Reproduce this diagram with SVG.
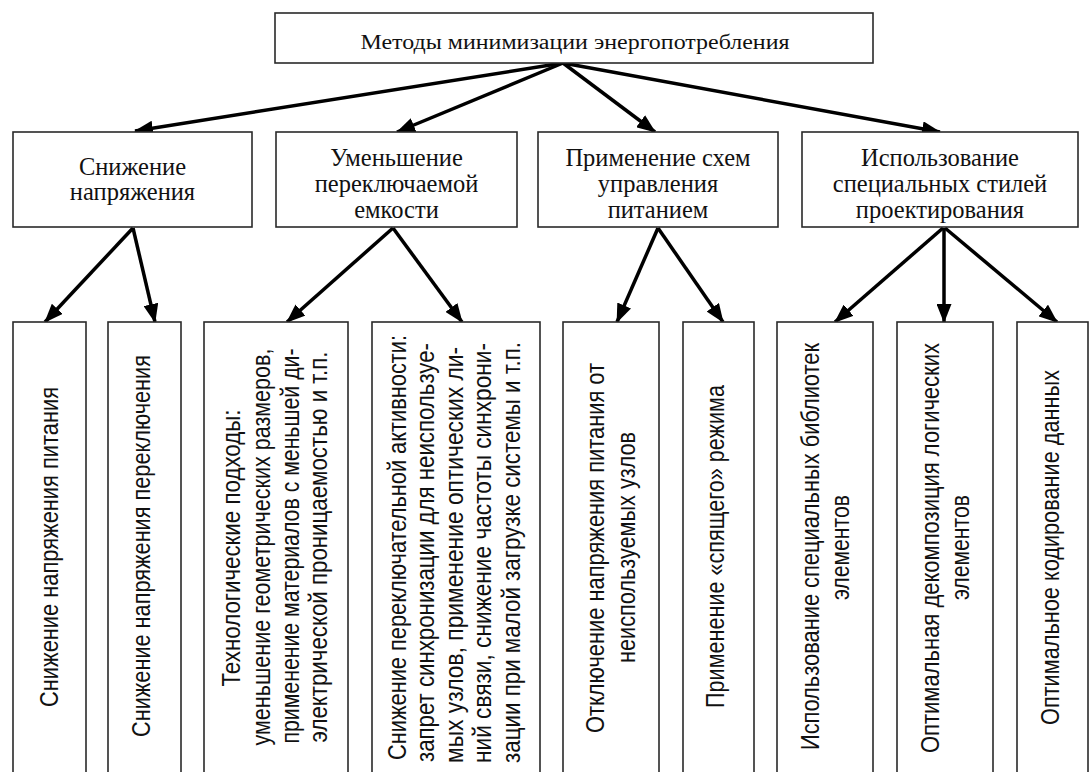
<svg xmlns="http://www.w3.org/2000/svg" width="1092" height="772" viewBox="0 0 1092 772">
<style>
.box{fill:#fff;stroke:#2a2a2a;stroke-width:1.6}
.serif{font-family:"Liberation Serif","Times New Roman",serif;fill:#111;text-anchor:middle}
.t1{font-size:20px}
.t2{font-size:24.5px}
.sans{font-family:"Liberation Sans",Arial,sans-serif;font-size:26px;fill:#111;text-anchor:middle}
.arr{stroke:#000;stroke-width:3.5;fill:none;marker-end:url(#ah)}
</style>
<defs>
<marker id="ah" markerUnits="userSpaceOnUse" markerWidth="19" markerHeight="15" refX="18" refY="7.5" orient="auto">
<path d="M0,0 L19,7.5 L0,15 Z" fill="#000"/>
</marker>
</defs>
<rect width="1092" height="772" fill="#fff"/>

<g id="connectors">
<line class="arr" x1="563" y1="63" x2="135" y2="131"/>
<line class="arr" x1="563" y1="63" x2="397" y2="132"/>
<line class="arr" x1="563" y1="63" x2="655" y2="132"/>
<line class="arr" x1="563" y1="63" x2="940" y2="132"/>
<line class="arr" x1="133" y1="228" x2="45" y2="322"/>
<line class="arr" x1="133" y1="228" x2="155" y2="322"/>
<line class="arr" x1="393" y1="228" x2="287" y2="322"/>
<line class="arr" x1="393" y1="228" x2="462" y2="322"/>
<line class="arr" x1="658" y1="228" x2="617" y2="322"/>
<line class="arr" x1="658" y1="228" x2="723" y2="322"/>
<line class="arr" x1="943" y1="228" x2="835" y2="322"/>
<line class="arr" x1="944" y1="228" x2="944" y2="322"/>
<line class="arr" x1="945" y1="228" x2="1057" y2="322"/>
</g>

<g id="root">
<rect class="box" x="275" y="13" width="598" height="50"/>
<text class="serif t1" x="575" y="49" textLength="429" lengthAdjust="spacingAndGlyphs">Методы минимизации энергопотребления</text>
</g>

<g id="n-voltage">
<rect class="box" x="13" y="132" width="239" height="95"/>
<text class="serif t2" x="132.5" y="175">Снижение</text>
<text class="serif t2" x="132.5" y="200">напряжения</text>
</g>
<g id="n-capacity">
<rect class="box" x="276" y="132" width="241" height="95"/>
<text class="serif t2" x="396.5" y="166">Уменьшение</text>
<text class="serif t2" x="396.5" y="192">переключаемой</text>
<text class="serif t2" x="396.5" y="218">емкости</text>
</g>
<g id="n-power">
<rect class="box" x="538" y="132" width="240" height="95"/>
<text class="serif t2" x="658" y="166">Применение схем</text>
<text class="serif t2" x="658" y="192">управления</text>
<text class="serif t2" x="658" y="218">питанием</text>
</g>
<g id="n-styles">
<rect class="box" x="802" y="132" width="276" height="95"/>
<text class="serif t2" x="940" y="166">Использование</text>
<text class="serif t2" x="940" y="192">специальных стилей</text>
<text class="serif t2" x="940" y="218">проектирования</text>
</g>

<g id="b-supply">
<rect class="box" x="13" y="322" width="73" height="451"/>
<text class="sans" transform="translate(58,547) rotate(-90)" textLength="320" lengthAdjust="spacingAndGlyphs">Снижение напряжения питания</text>
</g>
<g id="b-switch">
<rect class="box" x="108" y="322" width="73" height="451"/>
<text class="sans" transform="translate(150,546) rotate(-90)" textLength="382" lengthAdjust="spacingAndGlyphs">Снижение напряжения переключения</text>
</g>
<g id="b-tech">
<rect class="box" x="204" y="322" width="144" height="451"/>
<text class="sans" transform="translate(240,548) rotate(-90)" textLength="277" lengthAdjust="spacingAndGlyphs">Технологические подходы:</text>
<text class="sans" transform="translate(270,547) rotate(-90)" textLength="397" lengthAdjust="spacingAndGlyphs">уменьшение геометрических размеров,</text>
<text class="sans" transform="translate(299,546) rotate(-90)" textLength="395" lengthAdjust="spacingAndGlyphs">применение материалов с меньшей ди-</text>
<text class="sans" transform="translate(327,547) rotate(-90)" textLength="391" lengthAdjust="spacingAndGlyphs">электрической проницаемостью и т.п.</text>
</g>
<g id="b-activity">
<rect class="box" x="372" y="322" width="168" height="451"/>
<text class="sans" transform="translate(406,547.5) rotate(-90)" textLength="425" lengthAdjust="spacingAndGlyphs">Снижение переключательной активности:</text>
<text class="sans" transform="translate(434,552.5) rotate(-90)" textLength="419" lengthAdjust="spacingAndGlyphs">запрет синхронизации для неиспользуе-</text>
<text class="sans" transform="translate(463,555) rotate(-90)" textLength="416" lengthAdjust="spacingAndGlyphs">мых узлов, применение оптических ли-</text>
<text class="sans" transform="translate(491,553) rotate(-90)" textLength="420" lengthAdjust="spacingAndGlyphs">ний связи, снижение частоты синхрони-</text>
<text class="sans" transform="translate(520,552.5) rotate(-90)" textLength="421" lengthAdjust="spacingAndGlyphs">зации при малой загрузке системы и т.п.</text>
</g>
<g id="b-off">
<rect class="box" x="563" y="322" width="96" height="451"/>
<text class="sans" transform="translate(604,548) rotate(-90)" textLength="370" lengthAdjust="spacingAndGlyphs">Отключение напряжения питания от</text>
<text class="sans" transform="translate(635,547.5) rotate(-90)" textLength="231" lengthAdjust="spacingAndGlyphs">неиспользуемых узлов</text>
</g>
<g id="b-sleep">
<rect class="box" x="683" y="322" width="71" height="451"/>
<text class="sans" transform="translate(724,546.5) rotate(-90)" textLength="323" lengthAdjust="spacingAndGlyphs">Применение «спящего» режима</text>
</g>
<g id="b-libs">
<rect class="box" x="777" y="322" width="96" height="451"/>
<text class="sans" transform="translate(819,546.5) rotate(-90)" textLength="407" lengthAdjust="spacingAndGlyphs">Использование специальных библиотек</text>
<text class="sans" transform="translate(849,547.5) rotate(-90)" textLength="105" lengthAdjust="spacingAndGlyphs">элементов</text>
</g>
<g id="b-decomp">
<rect class="box" x="897" y="322" width="96" height="451"/>
<text class="sans" transform="translate(939,548) rotate(-90)" textLength="410" lengthAdjust="spacingAndGlyphs">Оптимальная декомпозиция логических</text>
<text class="sans" transform="translate(969,547.5) rotate(-90)" textLength="105" lengthAdjust="spacingAndGlyphs">элементов</text>
</g>
<g id="b-coding">
<rect class="box" x="1017" y="322" width="71" height="451"/>
<text class="sans" transform="translate(1059,547.5) rotate(-90)" textLength="355" lengthAdjust="spacingAndGlyphs">Оптимальное кодирование данных</text>
</g>
</svg>
